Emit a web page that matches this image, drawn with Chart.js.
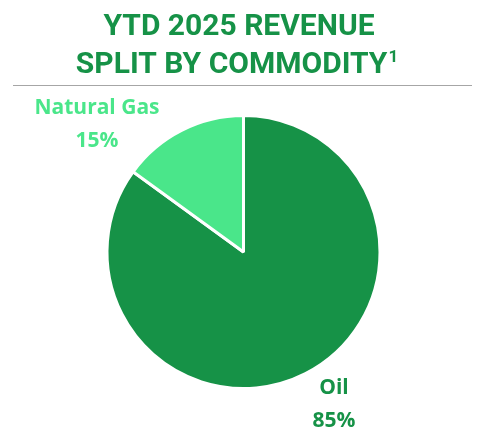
<!DOCTYPE html>
<html>
<head>
<meta charset="utf-8">
<script src="https://cdn.jsdelivr.net/npm/chart.js@4"></script>
<style>
  html, body { margin: 0; padding: 0; background: #fff; }
  #wrap { width: 480px; height: 432px; position: relative; }
</style>
</head>
<body>
<div id="wrap"><canvas id="pie"></canvas></div>
<script>
// chart data
const categories = ['Oil', 'Natural Gas'];
const shares = [85, 15];
const sliceColors = ['#169247', '#4ae68a'];
const titleLines = ['YTD 2025 REVENUE', 'SPLIT BY COMMODITY'];
const titleNote = '1';

// where each slice label sits (text centre, canvas px)
const labelSpots = [
  { x: 334, y: 388, color: '#169247' },
  { x: 97, y: 108, color: '#4ae68a' }
];

// draws the header, the rule under it and the slice labels
const decorPlugin = {
  id: 'decor',
  afterDraw(chart) {
    const ctx = chart.ctx;
    ctx.save();
    ctx.fillStyle = '#169247';
    ctx.textBaseline = 'alphabetic';
    ctx.font = 'bold 30px Roboto';
    ctx.textAlign = 'center';
    ctx.fillText(titleLines[0], 239, 35);

    // second line with a small raised footnote mark
    const w = ctx.measureText(titleLines[1]).width;
    ctx.font = 'bold 17px Roboto';
    const nw = ctx.measureText(titleNote).width;
    const left = 237 - (w + nw + 1) / 2;
    ctx.textAlign = 'left';
    ctx.font = 'bold 30px Roboto';
    ctx.fillText(titleLines[1], left, 73);
    ctx.font = 'bold 17px Roboto';
    ctx.fillText(titleNote, left + w + 1, 62);

    ctx.strokeStyle = '#a6a6a6';
    ctx.lineWidth = 1;
    ctx.beginPath();
    ctx.moveTo(13, 85.5);
    ctx.lineTo(472, 85.5);
    ctx.stroke();

    ctx.textAlign = 'center';
    ctx.textBaseline = 'middle';
    ctx.font = 'bold 21px "Open Sans"';
    categories.forEach((name, i) => {
      const spot = labelSpots[i];
      ctx.fillStyle = spot.color;
      ctx.fillText(name, spot.x, spot.y);
      ctx.fillText(shares[i] + '%', spot.x, spot.y + 33);
    });
    ctx.restore();
  }
};

new Chart(document.getElementById('pie'), {
  type: 'pie',
  data: {
    labels: categories,
    datasets: [{
      data: shares,
      backgroundColor: sliceColors,
      borderColor: '#ffffff',
      borderWidth: 3
    }]
  },
  options: {
    responsive: true,
    maintainAspectRatio: false,
    animation: false,
    layout: { padding: { top: 114, bottom: 42, left: 105, right: 98 } },
    plugins: {
      legend: { display: false },
      tooltip: { enabled: false },
      title: { display: false }
    }
  },
  plugins: [decorPlugin]
});
</script>
</body>
</html>
